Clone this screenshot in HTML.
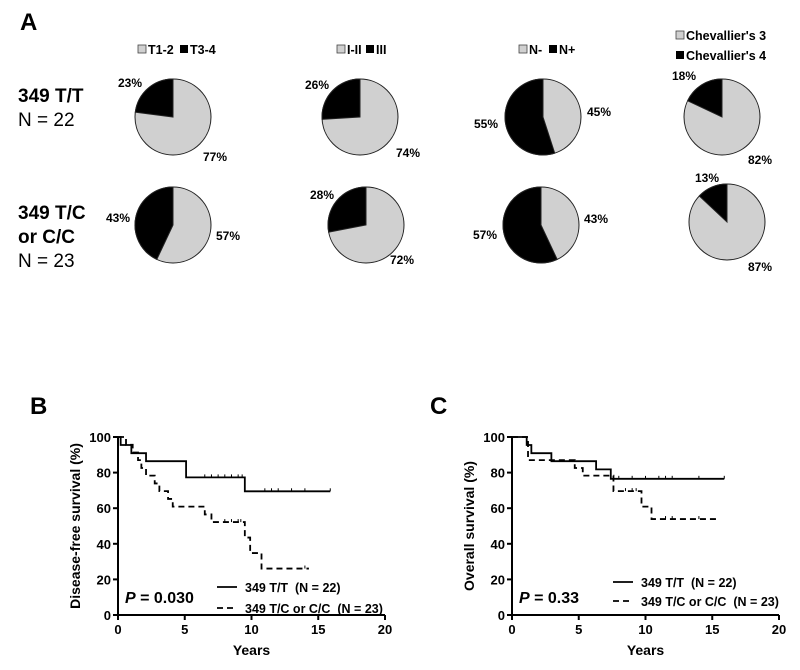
<!DOCTYPE html>
<html><head><meta charset="utf-8"><style>
body{margin:0;background:#fff;}
svg{display:block;font-family:"Liberation Sans",Arial,sans-serif;}
.pre{white-space:pre;}
</style></head><body>
<svg id="fig" width="800" height="670" viewBox="0 0 800 670">
<text x="20" y="30" font-size="24" font-weight="bold">A</text>
<text x="18" y="102" font-size="19" font-weight="bold">349 T/T</text>
<text x="18" y="126" font-size="19">N = 22</text>
<text x="18" y="219" font-size="19" font-weight="bold">349 T/C</text>
<text x="18" y="243" font-size="19" font-weight="bold">or C/C</text>
<text x="18" y="267" font-size="19">N = 23</text>
<g id="pies"></g>
<text x="30" y="414" font-size="24" font-weight="bold">B</text>
<text x="430" y="414" font-size="24" font-weight="bold">C</text>
<g id="kmB"></g><g id="kmC"></g>
</svg>
<script>
const NS="http://www.w3.org/2000/svg";
function mk(parent,tag,attrs,text){const e=document.createElementNS(NS,tag);for(const k in attrs)e.setAttribute(k,attrs[k]);if(text!==undefined)e.textContent=text;parent.appendChild(e);return e;}

const pieBlackRow1=[23,26,55,18];
const pieBlackRow2=[43,28,57,13];
const pieLegends=[["T1-2","T3-4"],["I-II","III"],["N-","N+"],["Chevallier's 3","Chevallier's 4"]];
const pieCenters=[[173,117,173,225],[360,117,366,225],[543,117,541,225],[722,117,727,222]];
const pieLabelPos=[
 [[130,87],[215,161],[118,222],[228,240]],
 [[317,89],[408,157],[322,199],[402,264]],
 [[486,128],[599,116],[485,239],[596,223]],
 [[684,80],[760,164],[707,182],[760,271]]];
const R=38;
const pg=document.getElementById('pies');
function pie(cx,cy,black,lbB,lbG,idx,row){
  const g=mk(pg,'g',{});
  
  
  const c=mk(g,'circle',{cx:cx,cy:cy,r:R,fill:'#d0d0d0',stroke:'#222','stroke-width':1});
  
  
  const a=-Math.PI/2-black/100*2*Math.PI;
  const x2=cx+R*Math.cos(a),y2=cy+R*Math.sin(a);
  const large=black>50?1:0;
  const p=mk(g,'path',{d:`M${cx},${cy} L${cx},${cy-R} A${R},${R} 0 ${large} 0 ${x2},${y2} Z`,fill:'#000',stroke:'#222','stroke-width':1});
  
  
  const t1=mk(g,'text',{x:lbB[0],y:lbB[1],'font-size':12,'font-weight':'bold','text-anchor':'middle'},black+'%');
  
  
  const t2=mk(g,'text',{x:lbG[0],y:lbG[1],'font-size':12,'font-weight':'bold','text-anchor':'middle'},(100-black)+'%');
  
  
}
for(let i=0;i<4;i++){
  const c=pieCenters[i],L=pieLabelPos[i];
  pie(c[0],c[1],pieBlackRow1[i],L[0],L[1],i,'row1');
  pie(c[2],c[3],pieBlackRow2[i],L[2],L[3],i,'row2');
}
const legX=[[138,180],[337,366],[519,549]];
for(let i=0;i<3;i++){
  const g=mk(pg,'g',{});
  
  
  mk(g,'rect',{x:legX[i][0],y:45,width:8,height:8,fill:'#d0d0d0',stroke:'#444','stroke-width':0.8});
  mk(g,'text',{x:legX[i][0]+10,y:54,'font-size':12.5,'font-weight':'bold'},pieLegends[i][0]);
  mk(g,'rect',{x:legX[i][1],y:45,width:8,height:8,fill:'#000'});
  mk(g,'text',{x:legX[i][1]+10,y:54,'font-size':12.5,'font-weight':'bold'},pieLegends[i][1]);
}
{
  const g=mk(pg,'g',{});
  
  
  mk(g,'rect',{x:676,y:31,width:8,height:8,fill:'#d0d0d0',stroke:'#444','stroke-width':0.8});
  mk(g,'text',{x:686,y:40,'font-size':12.5,'font-weight':'bold'},pieLegends[3][0]);
  mk(g,'rect',{x:676,y:51,width:8,height:8,fill:'#000'});
  mk(g,'text',{x:686,y:60,'font-size':12.5,'font-weight':'bold'},pieLegends[3][1]);
}

const xTicks=[0,5,10,15,20];
const yTicks=[0,20,40,60,80,100];
const bSolidT=[0,0.2,1.0,2.1,5.1,9.5,15.9];
const bSolidS=[100,95.5,90.9,86.4,77.3,69.5,69.5];
const bSolidCens=[6.5,7,7.5,8,8.5,9,9.3,11,11.5,12,13,14,15.9];
const bDashT=[0,0.6,1.1,1.5,1.75,2.1,2.75,3.1,3.75,4.1,6.5,7.0,9.5,9.9,10.75,14.3];
const bDashS=[100,95.6,91.3,87,82.6,78.3,73.9,69.6,65.2,60.9,56.5,52.2,43.5,34.8,26.1,26.1];
const bDashCens=[8,8.5,9,9.2,14];
const cSolidT=[0,1.1,1.45,2.95,6.3,7.4,15.9];
const cSolidS=[100,95.5,90.9,86.4,81.8,76.5,76.5];
const cSolidCens=[8,9,10,11,11.5,12,14,15.9];
const cDashT=[0,1.2,4.7,5.3,7.6,9.7,10.45,15.5];
const cDashS=[100,87,82.6,78.3,69.6,60.9,53.9,53.9];
const cDashCens=[8.5,9,9.3,11.5,12,14];

function km(id,x0,x1,yBot,yTop,ylabel,ptext,solid,dash,legX,legY1,legY2,pX){
  const g=document.getElementById(id);
  
  
  const sx=v=>x0+(x1-x0)*v/20, sy=v=>yBot-(yBot-yTop)*v/100;
  const ax=mk(g,'path',{d:`M${x0},${yTop} V${yBot} H${x1}`,fill:'none',stroke:'#000','stroke-width':2});
  
  
  xTicks.forEach(t=>{mk(g,'line',{x1:sx(t),x2:sx(t),y1:yBot,y2:yBot+5,stroke:'#000','stroke-width':2});
    const tx=mk(g,'text',{x:sx(t),y:yBot+19,'font-size':13,'font-weight':'bold','text-anchor':'middle'},t);
    
    });
  yTicks.forEach(t=>{mk(g,'line',{x1:x0-5,x2:x0,y1:sy(t),y2:sy(t),stroke:'#000','stroke-width':2});
    const tx=mk(g,'text',{x:x0-7,y:sy(t)+5,'font-size':13,'font-weight':'bold','text-anchor':'end'},t);
    
    });
  const xl=mk(g,'text',{x:(x0+x1)/2,y:yBot+40,'font-size':14,'font-weight':'bold','text-anchor':'middle'},'Years');
  
  
  const cy=(yBot+yTop)/2;
  const yl=mk(g,'text',{x:x0-38,y:cy,'font-size':14,'font-weight':'bold','text-anchor':'middle',transform:`rotate(-90 ${x0-38} ${cy})`},ylabel);
  
  
  [[solid,'',1],[dash,'6,4',0]].forEach(([s,da,isSolid])=>{
    const [T,S,C]=s;
    let d=`M${sx(T[0])},${sy(S[0])}`;
    for(let i=1;i<T.length;i++){d+=` H${sx(T[i])} V${sy(S[i])}`;}
    const p=mk(g,'path',{d:d,fill:'none',stroke:'#000','stroke-width':1.8,'stroke-dasharray':da});
    
    
    C.forEach(c=>{let v=S[0];for(let i=0;i<T.length;i++)if(T[i]<=c)v=S[i];
      const m=mk(g,'line',{x1:sx(c),x2:sx(c),y1:sy(v)-3,y2:sy(v),stroke:'#000','stroke-width':1});
      
      });
  });
  const l1=mk(g,'g',{});
  
  
  mk(l1,'line',{x1:legX,x2:legX+20,y1:legY1,y2:legY1,stroke:'#000','stroke-width':1.8});
  mk(l1,'text',{x:legX+28,y:legY1+5,'font-size':12.5,'font-weight':'bold','class':'pre'},'349 T/T  (N = 22)');
  const l2=mk(g,'g',{});
  
  
  mk(l2,'line',{x1:legX,x2:legX+20,y1:legY2,y2:legY2,stroke:'#000','stroke-width':1.8,'stroke-dasharray':'6,4'});
  mk(l2,'text',{x:legX+28,y:legY2+5,'font-size':12.5,'font-weight':'bold','class':'pre'},'349 T/C or C/C  (N = 23)');
  const pt=mk(g,'text',{x:pX,y:yBot-12,'font-size':16,'font-weight':'bold'});
  
  
  mk(pt,'tspan',{'font-style':'italic'},'P');
  mk(pt,'tspan',{},' = '+ptext);
}
km('kmB',118,385,615,437,'Disease-free survival (%)','0.030',
   [bSolidT,bSolidS,bSolidCens],[bDashT,bDashS,bDashCens],217,587,608,125);
km('kmC',512,779,615,437,'Overall survival (%)','0.33',
   [cSolidT,cSolidS,cSolidCens],[cDashT,cDashS,cDashCens],613,582,601,519);
</script>
</body></html>
